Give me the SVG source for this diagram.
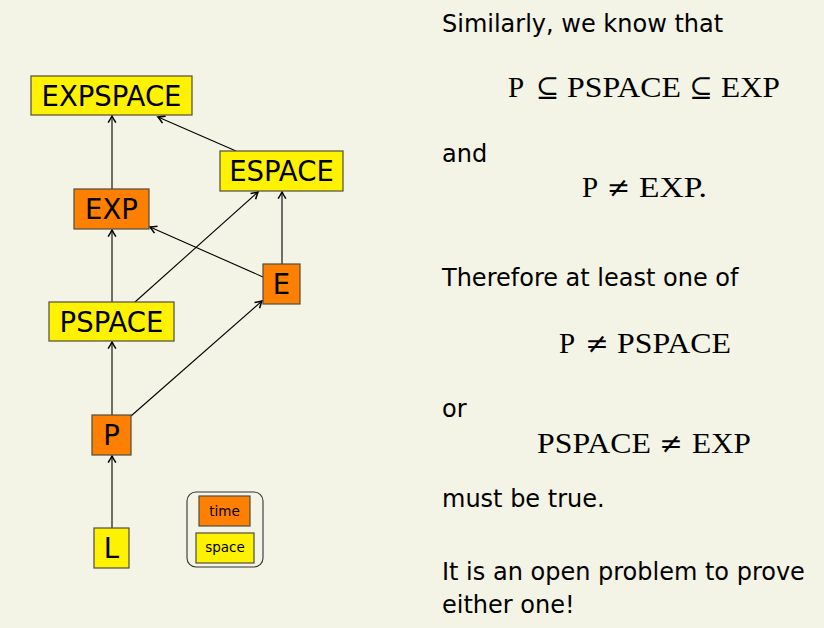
<svg xmlns="http://www.w3.org/2000/svg" width="824" height="628" viewBox="0 0 824 628">
<style>
.bg{fill:#f3f3e6}
.yel{fill:#fff200;stroke:#4d4d40;stroke-width:1.2}
.org{fill:#ff7f00;stroke:#4d4d40;stroke-width:1.2}
.lbl{font-family:"DejaVu Sans",sans-serif;font-size:27.5px;fill:#000;text-anchor:middle}
.small{font-family:"DejaVu Sans",sans-serif;font-size:13.5px;fill:#000;text-anchor:middle}
.txt{font-family:"DejaVu Sans",sans-serif;font-size:24px;fill:#000}
.math{font-family:"Liberation Serif","DejaVu Serif",serif;font-size:29px;fill:#000}
.sym{font-family:"DejaVu Serif","DejaVu Sans",serif;font-size:28px;text-anchor:middle}
.edge{stroke:#000;stroke-width:1.1;fill:none;marker-end:url(#arr)}
</style>
<defs>
<marker id="arr" markerUnits="userSpaceOnUse" markerWidth="12" markerHeight="12" refX="0" refY="0" viewBox="-8 -5 10 10" orient="auto">
<path d="M-5.5,-3.2 Q-2,-1 0,0 Q-2,1 -5.5,3.2" fill="none" stroke="#000" stroke-width="1.3"/>
</marker>
</defs>
<rect class="bg" x="0" y="0" width="824" height="628"/>
<g id="connectors">
<line class="edge" x1="112" y1="528" x2="112" y2="456"/>
<line class="edge" x1="112" y1="415" x2="112" y2="342"/>
<line class="edge" x1="131" y1="416" x2="262" y2="301"/>
<line class="edge" x1="112" y1="302" x2="112" y2="230"/>
<line class="edge" x1="135" y1="302" x2="258" y2="192"/>
<line class="edge" x1="263" y1="277" x2="150" y2="227"/>
<line class="edge" x1="282" y1="264" x2="282" y2="192"/>
<line class="edge" x1="112" y1="189" x2="112" y2="116"/>
<line class="edge" x1="236" y1="151" x2="158" y2="117"/>
</g>
<g id="EXPSPACE"><rect class="yel" x="31" y="76" width="161" height="39"/><text class="lbl" x="111.5" y="105.5">EXPSPACE</text></g>
<g id="ESPACE"><rect class="yel" x="220" y="151" width="123" height="40"/><text class="lbl" x="281.5" y="181">ESPACE</text></g>
<g id="EXP"><rect class="org" x="74" y="189" width="75" height="40"/><text class="lbl" x="111.5" y="219">EXP</text></g>
<g id="PSPACE"><rect class="yel" x="49" y="302" width="125" height="39"/><text class="lbl" x="111.5" y="331.5">PSPACE</text></g>
<g id="E"><rect class="org" x="263" y="264" width="37" height="40"/><text class="lbl" x="281.5" y="294">E</text></g>
<g id="P"><rect class="org" x="92" y="415" width="39" height="40"/><text class="lbl" x="111.5" y="445">P</text></g>
<g id="L"><rect class="yel" x="94" y="528" width="35" height="40"/><text class="lbl" x="111.5" y="558">L</text></g>
<g id="legend">
<rect x="187" y="492" width="76" height="75" rx="9" ry="9" fill="none" stroke="#333" stroke-width="1.1"/>
<rect class="org" x="199" y="496" width="51" height="30"/><text class="small" x="224.5" y="516">time</text>
<rect class="yel" x="196" y="533" width="58" height="30"/><text class="small" x="225" y="552">space</text>
</g>
<g id="text">
<text class="txt" x="442" y="31.5">Similarly, we know that</text>
<text class="math" y="96.5"><tspan x="508">P</tspan><tspan class="sym" x="547.5">⊆</tspan><tspan x="567" textLength="114" lengthAdjust="spacingAndGlyphs">PSPACE</tspan><tspan class="sym" x="701">⊆</tspan><tspan x="721" textLength="59" lengthAdjust="spacingAndGlyphs">EXP</tspan></text>
<text class="txt" x="442" y="162">and</text>
<text class="math" y="197"><tspan x="582">P</tspan><tspan class="sym" x="618.5">≠</tspan><tspan x="639" textLength="68" lengthAdjust="spacingAndGlyphs">EXP.</tspan></text>
<text class="txt" x="442" y="286">Therefore at least one of</text>
<text class="math" y="353"><tspan x="559">P</tspan><tspan class="sym" x="597">≠</tspan><tspan x="617" textLength="114" lengthAdjust="spacingAndGlyphs">PSPACE</tspan></text>
<text class="txt" x="442" y="417">or</text>
<text class="math" y="453"><tspan x="537" textLength="114" lengthAdjust="spacingAndGlyphs">PSPACE</tspan><tspan class="sym" x="671">≠</tspan><tspan x="692" textLength="59" lengthAdjust="spacingAndGlyphs">EXP</tspan></text>
<text class="txt" x="442" y="507">must be true.</text>
<text class="txt" x="442" y="580">It is an open problem to prove</text>
<text class="txt" x="442" y="613">either one!</text>
</g>
</svg>
